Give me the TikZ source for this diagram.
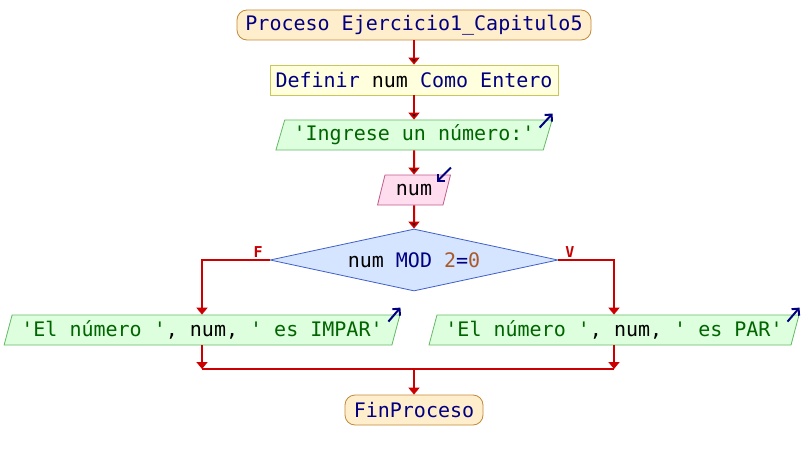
\documentclass[tikz,border=0pt]{standalone}
\usepackage{fontspec}
\setmonofont{DejaVu Sans Mono}
\usetikzlibrary{shapes.geometric,arrows.meta,positioning}
\definecolor{linea}{RGB}{204,0,0}
\definecolor{azul}{RGB}{0,0,128}
\definecolor{verde}{RGB}{0,100,0}
\definecolor{cafe}{RGB}{170,90,40}
\definecolor{termfondo}{RGB}{255,238,204}
\definecolor{termborde}{RGB}{196,136,56}
\definecolor{deffondo}{RGB}{255,255,221}
\definecolor{defborde}{RGB}{200,200,90}
\definecolor{salfondo}{RGB}{221,255,221}
\definecolor{salborde}{RGB}{100,185,100}
\definecolor{entfondo}{RGB}{255,221,238}
\definecolor{entborde}{RGB}{190,90,140}
\definecolor{condfondo}{RGB}{213,228,255}
\definecolor{condborde}{RGB}{64,96,200}
\newcommand{\cad}[1]{\textcolor{verde}{#1}}
\newcommand{\num}[1]{\textcolor{cafe}{#1}}
\newcommand{\var}[1]{\textcolor{black}{#1}}

\begin{document}
\begin{tikzpicture}[x=1pt,y=1pt,node distance=55pt,>={Triangle[width=11pt,length=7pt]},
  font=\ttfamily\fontsize{20}{24}\selectfont,text=azul,
  terminal/.style={rectangle,rounded corners=10pt,draw=termborde,fill=termfondo,line width=0.8pt,minimum height=30pt,inner sep=0pt},
  definir/.style={rectangle,draw=defborde,fill=deffondo,line width=0.8pt,minimum height=30pt,inner sep=0pt},
  paralelo/.style={trapezium,trapezium left angle=68,trapezium right angle=112,trapezium stretches=true,line width=0.8pt,minimum height=30pt,inner sep=0pt},
  salida/.style={paralelo,draw=salborde,fill=salfondo},
  entrada/.style={paralelo,draw=entborde,fill=entfondo},
  decision/.style={diamond,aspect=4.6,draw=condborde,fill=condfondo,line width=0.8pt,minimum width=288pt,minimum height=62pt,inner sep=0pt},
  flecha/.style={->,draw=linea,line width=2pt},
  linea/.style={draw=linea,line width=2pt},
  indic/.style={-{Straight Barb[length=5pt,width=10pt]},draw=azul,line width=2pt},
  etiq/.style={text=linea,font=\ttfamily\bfseries\fontsize{15}{17}\selectfont,inner sep=1pt}]

  \useasboundingbox (0,0) rectangle (804,-460);

  \node[terminal,minimum width=354pt] (inicio) at (414,-25) {Proceso Ejercicio1\_Capitulo5};
  \node[definir,minimum width=288pt] (def) [below of=inicio] {Definir \var{num} Como Entero};
  \node[salida,minimum width=277pt] (msg) [below of=def] {\cad{'Ingrese un número:'}};
  \node[entrada,minimum width=73pt] (leer) [below of=msg] {\var{num}};
  \node[decision] (cond) [below of=leer,node distance=70pt] {\var{num} MOD \num{2}=\num{0}};

  \coordinate[left of=cond,node distance=212pt] (dl);
  \coordinate[right of=cond,node distance=200pt] (dr);
  \node[salida,minimum width=396pt] (impar) [below of=dl,node distance=70pt] {\cad{'El número '}\var{, num, }\cad{' es IMPAR'}};
  \node[salida,minimum width=372pt] (par) [below of=dr,node distance=70pt] {\cad{'El número '}\var{, num, }\cad{' es PAR'}};

  \coordinate[below of=cond,node distance=109pt] (m);
  \node[terminal,minimum width=138pt] (fin) [below of=m,node distance=41pt] {FinProceso};

  \path[flecha]
  (inicio) edge (def)
  (def)    edge (msg)
  (msg)    edge (leer)
  (leer)   edge (cond);

  \draw[flecha] (cond.west) node[etiq,anchor=south east,xshift=-5pt,yshift=1pt] {F} -| (impar);
  \draw[flecha] (cond.east) node[etiq,anchor=south west,xshift=5pt,yshift=1pt] {V} -| (par);
  \draw[flecha] (impar) -- (impar |- m);
  \draw[flecha] (par) -- (par |- m);
  \draw[linea] (impar |- m) -- (par |- m);
  \draw[flecha] (m) -- (fin);

  % indicadores de entrada/salida
  \draw[indic] ([xshift=-13pt,yshift=-8pt]msg.top right corner) -- ([yshift=6pt]msg.top right corner);
  \draw[indic] ([yshift=7pt]leer.top right corner) -- ([xshift=-14pt,yshift=-7pt]leer.top right corner);
  \draw[indic] ([xshift=-12pt,yshift=-7pt]impar.top right corner) -- ([yshift=7pt]impar.top right corner);
  \draw[indic] ([xshift=-12pt,yshift=-7pt]par.top right corner) -- ([yshift=7pt]par.top right corner);
\end{tikzpicture}
\end{document}
